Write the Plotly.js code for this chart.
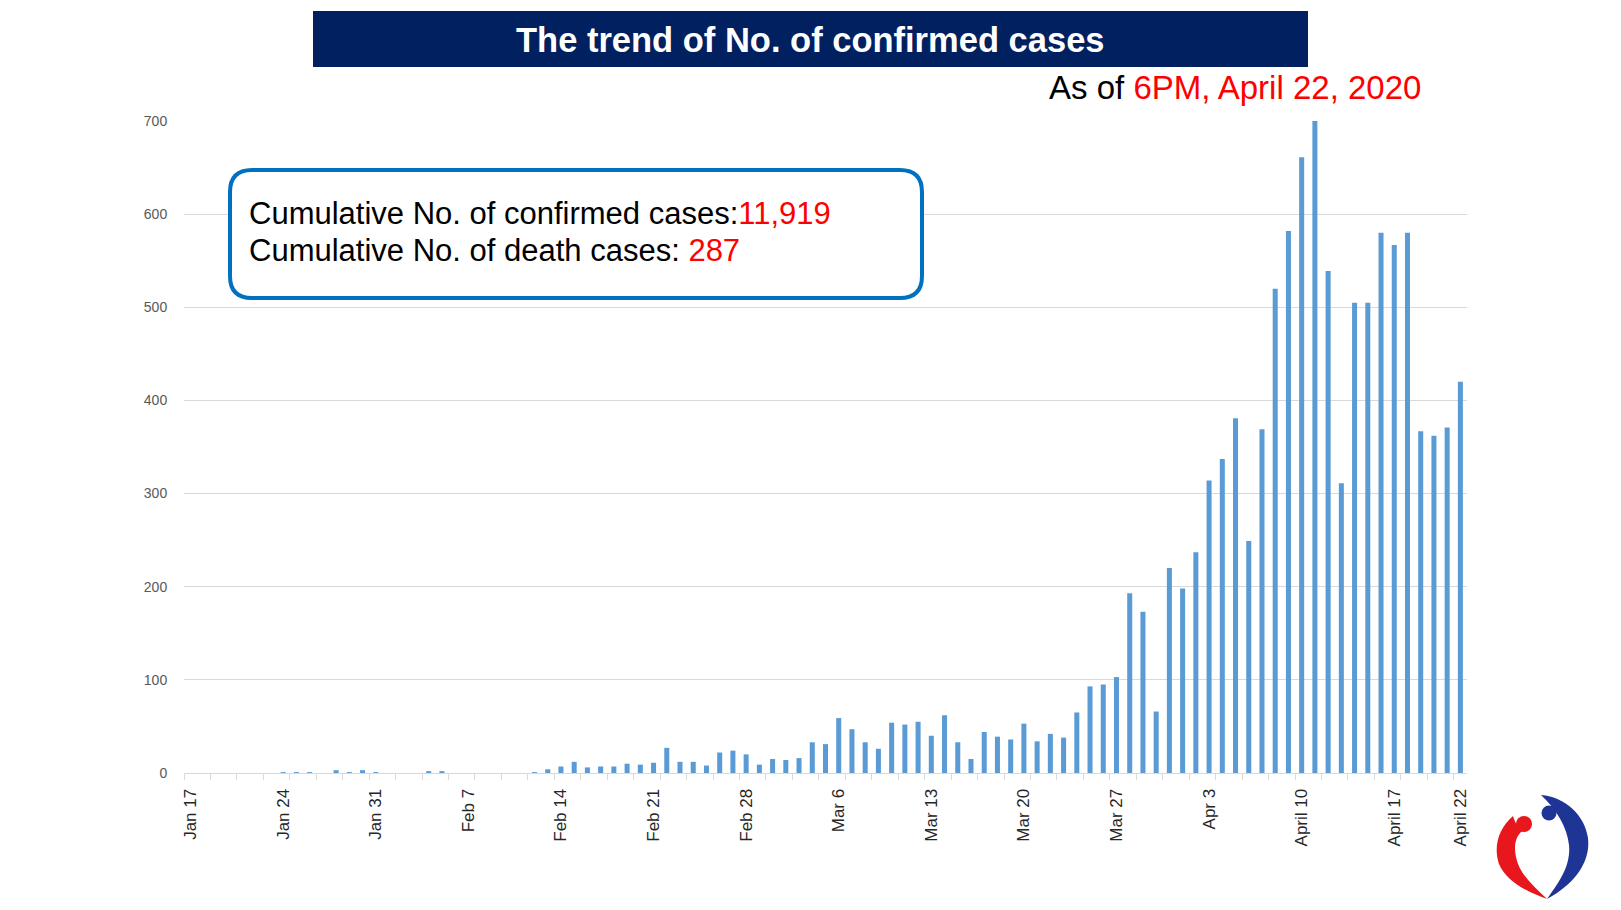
<!DOCTYPE html>
<html><head><meta charset="utf-8">
<script src="https://cdn.plot.ly/plotly-3.0.1.min.js"></script>
<style>
html,body{margin:0;padding:0;background:#fff;}
#chart{width:1621px;height:910px;}
#logo{position:absolute;left:1480px;top:780px;}
</style>
</head><body>
<div id="chart"></div>
<svg id="logo" width="141" height="130" viewBox="0 0 141 130">
  <path d="M 33 36 C 19 48, 13 66, 19 84 C 26 101, 47 112, 67 119 C 52 105, 39 93, 36 77 C 33 63, 37 54, 44 50 C 38 48, 35 43, 33 36 Z" fill="#e8161d"/>
  <circle cx="44" cy="44" r="8" fill="#e8161d"/>
  <path d="M 61 15 C 86 17, 105 36, 108 58 C 111 83, 93 105, 67 119 C 80 101, 91 85, 89 65 C 87 47, 77 30, 61 15 Z" fill="#1f3596"/>
  <circle cx="69" cy="33" r="7.5" fill="#1f3596"/>
</svg>
<script>
// ---- data ----
const startDate = '2020-01-17';
const casesJan = [0,0,0,0,0,0,0,1,1,1,0,3,1,3,1];
const casesFeb = [0,0,0,2,2,0,0,0,0,0,0,1,4,7,12,6,7,7,10,9,11,27,12,12,8,22,24,20,9];
const casesMar = [15,14,16,33,31,59,47,33,26,54,52,55,40,62,33,15,44,39,36,53,34,42,38,65,93,95,103,193,173,66,220];
const casesApr = [198,237,314,337,381,249,369,520,582,661,700,539,311,505,505,580,567,580,367,362,371,420];
const tickDates = ['2020-01-17','2020-01-24','2020-01-31','2020-02-07','2020-02-14','2020-02-21','2020-02-28','2020-03-06','2020-03-13','2020-03-20','2020-03-27','2020-04-03','2020-04-10','2020-04-17','2020-04-22'];
const tickLabels = ['Jan 17','Jan 24','Jan 31','Feb 7','Feb 14','Feb 21','Feb 28','Mar 6','Mar 13','Mar 20','Mar 27','Apr 3','April 10','April 17','April 22'];
const yTicks = [0,100,200,300,400,500,600,700];
const titleText = 'The trend of No. of confirmed cases';
const asOfPrefix = 'As of ';
const asOfDate = '6PM, April 22, 2020';
const cumLabel1 = 'Cumulative No. of confirmed cases:';
const cumValue1 = '11,919';
const cumLabel2 = 'Cumulative No. of death cases: ';
const cumValue2 = '287';

// ---- build ----
const dailyCases = casesJan.concat(casesFeb, casesMar, casesApr);
function addDays(s, n){ const d = new Date(s + 'T00:00:00Z'); d.setUTCDate(d.getUTCDate() + n); return d.toISOString().slice(0,10); }
const dates = dailyCases.map((_, i) => addDays(startDate, i));
const DAY = 86400000;

// pixel -> paper helpers for decorations
const W = 1621, H = 910, ML = 184, MR = 154, MT = 121, MB = 137;
const PW = W - ML - MR, PH = H - MT - MB;
const px = p => (p - ML) / PW;
const py = p => (H - MB - p) / PH;

function roundRect(x0, y0, x1, y1, r){
  const P = (x, y) => px(x).toFixed(5) + ',' + py(y).toFixed(5);
  return 'M ' + P(x0 + r, y0) + ' L ' + P(x1 - r, y0) + ' Q ' + P(x1, y0) + ' ' + P(x1, y0 + r) +
    ' L ' + P(x1, y1 - r) + ' Q ' + P(x1, y1) + ' ' + P(x1 - r, y1) +
    ' L ' + P(x0 + r, y1) + ' Q ' + P(x0, y1) + ' ' + P(x0, y1 - r) +
    ' L ' + P(x0, y0 + r) + ' Q ' + P(x0, y0) + ' ' + P(x0 + r, y0) + ' Z';
}

const FONT = 'Liberation Sans, Arial, sans-serif';

const trace = {
  type: 'bar', x: dates, y: dailyCases,
  width: dailyCases.map(() => 0.38 * DAY),
  marker: {color: '#5b9bd5', line: {width: 0}},
  hoverinfo: 'x+y'
};

const layout = {
  width: W, height: H,
  margin: {l: ML, r: MR, t: MT, b: MB},
  paper_bgcolor: '#ffffff', plot_bgcolor: '#ffffff',
  showlegend: false,
  xaxis: {
    type: 'date',
    range: ['2020-01-16 12:00', '2020-04-22 12:00'],
    tickmode: 'array', tickvals: tickDates, ticktext: tickLabels,
    tickangle: -90,
    ticks: 'outside', ticklen: 8, tickcolor: 'rgba(0,0,0,0)',
    tickfont: {family: FONT, size: 17, color: '#262626'},
    showline: true, linecolor: '#d9d9d9', linewidth: 1,
    showgrid: false, zeroline: false,
    minor: {ticks: 'outside', ticklen: 6, tickcolor: '#d9d9d9', tickwidth: 1,
            tickmode: 'linear', dtick: 2 * DAY, tick0: '2020-01-16 12:00', showgrid: false}
  },
  yaxis: {
    range: [0, 700], tickmode: 'array', tickvals: yTicks,
    showgrid: true, gridcolor: '#d9d9d9', gridwidth: 1,
    zeroline: false, showline: false,
    ticks: 'outside', ticklen: 13, tickcolor: 'rgba(0,0,0,0)',
    tickfont: {family: FONT, size: 14, color: '#595959'}
  },
  shapes: [
    {type: 'rect', xref: 'paper', yref: 'paper', x0: px(313), x1: px(1308), y0: py(67), y1: py(11),
     fillcolor: '#002060', line: {width: 0}, layer: 'above'},
    {type: 'path', xref: 'paper', yref: 'paper', path: roundRect(230, 170, 922, 298, 22),
     fillcolor: '#ffffff', line: {color: '#0070c0', width: 4}, layer: 'above'}
  ],
  annotations: [
    {xref: 'paper', yref: 'paper', x: px(810), y: py(40), xanchor: 'center', yanchor: 'middle',
     text: '<b>' + titleText + '</b>', showarrow: false,
     font: {family: FONT, size: 34.5, color: '#ffffff'}},
    {xref: 'paper', yref: 'paper', x: px(1423), y: py(88), xanchor: 'right', yanchor: 'middle',
     text: asOfPrefix + '<span style="color:#ff0000">' + asOfDate + '</span>', showarrow: false,
     font: {family: FONT, size: 33, color: '#000000'}},
    {xref: 'paper', yref: 'paper', x: px(247), y: py(214), xanchor: 'left', yanchor: 'middle',
     text: cumLabel1 + '<span style="color:#ff0000">' + cumValue1 + '</span>', showarrow: false,
     font: {family: FONT, size: 31, color: '#000000'}},
    {xref: 'paper', yref: 'paper', x: px(247), y: py(251), xanchor: 'left', yanchor: 'middle',
     text: cumLabel2 + '<span style="color:#ff0000">' + cumValue2 + '</span>', showarrow: false,
     font: {family: FONT, size: 31, color: '#000000'}}
  ]
};

Plotly.newPlot('chart', [trace], layout, {displayModeBar: false, staticPlot: true});
</script>
</body></html>
